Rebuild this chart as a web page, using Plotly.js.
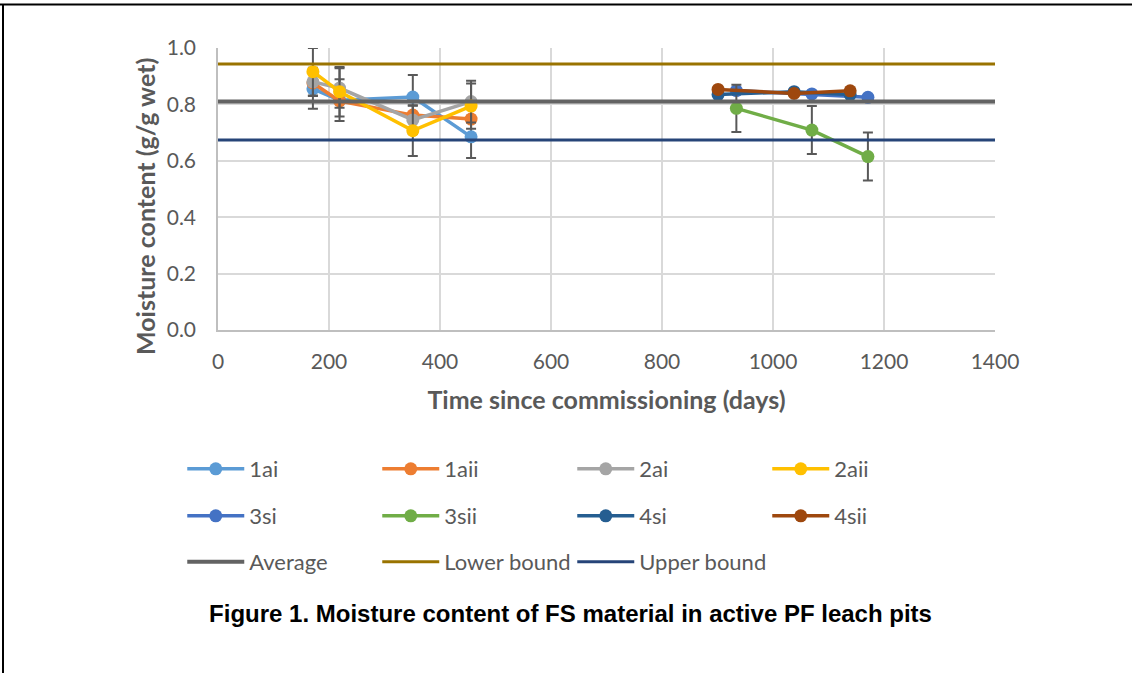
<!DOCTYPE html>
<html>
<head>
<meta charset="utf-8">
<script src="https://cdn.plot.ly/plotly-3.0.1.min.js"></script>
<style>
html,body{margin:0;padding:0;background:#fff;}
#chart{width:1132px;height:673px;}
</style>
</head>
<body>
<div id="chart"></div>
<script>
// ---- data ----
const daysA = [171, 219, 351, 456];
const s1ai = [0.855, 0.815, 0.826, 0.685];
const e1ai = [0.07, 0.074, 0.078, 0.075];
const s1aii = [0.876, 0.812, 0.762, 0.748];
const s2ai = [0.88, 0.858, 0.745, 0.81];
const e2ai = [0.05, 0.07, 0.05, 0.074];
const s2aii = [0.916, 0.845, 0.707, 0.794];
const e2aii = [0.084, 0.088, 0.09, 0.08];

const days3 = [934, 1070, 1171];
const s3si = [0.849, 0.837, 0.825];
const s3sii = [0.786, 0.709, 0.615];
const e3sii = [0.084, 0.085, 0.085];

const days4 = [901, 1038, 1139];
const s4si = [0.835, 0.845, 0.835];
const s4sii = [0.853, 0.839, 0.848];

const refX = [0, 1400];
const average = [0.81, 0.81];
const lowerBound = [0.943, 0.943];
const upperBound = [0.674, 0.674];

const xTicks = [0, 200, 400, 600, 800, 1000, 1200, 1400];
const yTicks = [0, 0.2, 0.4, 0.6, 0.8, 1.0];
const yTickText = ['0.0', '0.2', '0.4', '0.6', '0.8', '1.0'];

// ---- styling ----
const ERR = '#595959';
function series(name, x, y, color, err, legend) {
  const t = {
    type: 'scatter', mode: 'lines+markers', name: name, x: x, y: y,
    line: {color: color, width: 3.5},
    marker: {color: color, size: 13, symbol: 'circle'},
    legend: legend
  };
  if (err) {
    t.error_y = {type: 'data', array: err, visible: true, color: ERR, thickness: 2, width: 5};
  }
  return t;
}
function refLine(name, y, color, width, legend) {
  return {type: 'scatter', mode: 'lines', name: name, x: refX, y: y,
    line: {color: color, width: width}, legend: legend};
}

const traces = [
  series('1ai', daysA, s1ai, '#5B9BD5', e1ai, 'legend'),
  series('1aii', daysA, s1aii, '#ED7D31', null, 'legend'),
  series('2ai', daysA, s2ai, '#A5A5A5', e2ai, 'legend'),
  series('2aii', daysA, s2aii, '#FFC000', e2aii, 'legend'),
  series('3si', days3, s3si, '#4472C4', null, 'legend2'),
  series('3sii', days3, s3sii, '#70AD47', e3sii, 'legend2'),
  series('4si', days4, s4si, '#255E91', null, 'legend2'),
  series('4sii', days4, s4sii, '#9E480E', null, 'legend2'),
  refLine('Average', average, '#636363', 4, 'legend3'),
  refLine('Lower bound', lowerBound, '#997300', 3, 'legend3'),
  refLine('Upper bound', upperBound, '#264478', 3, 'legend3')
];

const FONT = 'Lato, "Open Sans", sans-serif';
const legBase = {
  orientation: 'h', xanchor: 'left', yanchor: 'middle', x: -0.046,
  entrywidth: 123, entrywidthmode: 'pixels', itemwidth: 57,
  font: {family: FONT, size: 22, color: '#595959'},
  bgcolor: 'rgba(0,0,0,0)', traceorder: 'normal'
};

const layout = {
  width: 1132, height: 673,
  margin: {l: 218, r: 137, t: 48, b: 343, pad: 0},
  paper_bgcolor: '#fff', plot_bgcolor: '#fff',
  showlegend: true,
  font: {family: FONT, color: '#595959'},
  title: {
    text: '<b>Figure 1. Moisture content of FS material in active PF leach pits</b>',
    font: {family: '"Liberation Sans", Arial, sans-serif', size: 24, color: '#000'},
    x: 0.504, xanchor: 'center', xref: 'container',
    y: 1 - 614 / 673, yanchor: 'middle', yref: 'container'
  },
  xaxis: {
    range: [0, 1400], tickvals: xTicks, ticktext: xTicks.map(String),
    showgrid: true, gridcolor: '#D9D9D9', gridwidth: 1.5,
    zeroline: false, showline: true, linecolor: '#BFBFBF', linewidth: 1.5,
    ticks: '', ticklabelstandoff: 12,
    tickfont: {family: FONT, size: 21, color: '#595959'},
    title: {text: '<b>Time since commissioning (days)</b>', standoff: 20,
      font: {family: FONT, size: 25, color: '#595959'}}
  },
  yaxis: {
    range: [0, 1.0], tickvals: yTicks, ticktext: yTickText,
    showgrid: true, gridcolor: '#D9D9D9', gridwidth: 1.5,
    zeroline: false, showline: true, linecolor: '#BFBFBF', linewidth: 1.5,
    ticks: '', ticklabelstandoff: 16,
    tickfont: {family: FONT, size: 21, color: '#595959'}
  },
  annotations: [
    {text: '<b>Moisture content (g/g wet)</b>', textangle: -90,
      xref: 'paper', yref: 'paper', x: (145 - 218) / 777, y: (330 - 207) / 282,
      xanchor: 'center', yanchor: 'middle', showarrow: false,
      font: {family: FONT, size: 25, color: '#595959'}}
  ],
  legend: Object.assign({}, legBase, {y: (330 - 469) / 282}),
  legend2: Object.assign({}, legBase, {y: (330 - 516) / 282}),
  legend3: Object.assign({}, legBase, {y: (330 - 562) / 282}),
  shapes: [
    {type: 'line', xref: 'paper', yref: 'paper', x0: -0.2806, x1: 1.18, y0: (330 - 4.5) / 282, y1: (330 - 4.5) / 282,
      line: {color: '#000', width: 2}},
    {type: 'line', xref: 'paper', yref: 'paper', x0: (3 - 218) / 777, x1: (3 - 218) / 777, y0: (330 - 4.5) / 282, y1: (330 - 680) / 282,
      line: {color: '#000', width: 2}}
  ]
};

Plotly.newPlot('chart', traces, layout, {displayModeBar: false, responsive: false});
</script>
</body>
</html>
